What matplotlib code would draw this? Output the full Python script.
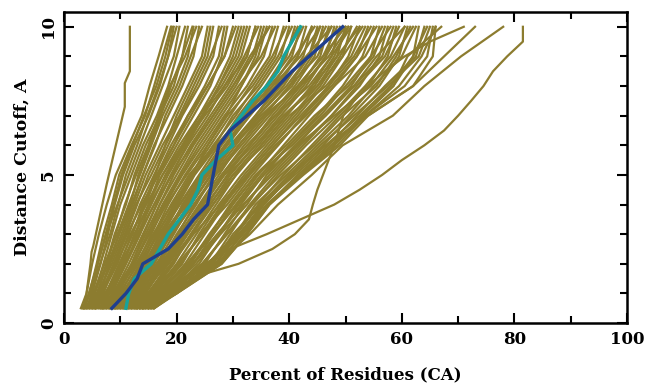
import matplotlib
matplotlib.use("Agg")
import matplotlib.pyplot as plt
from matplotlib.ticker import MultipleLocator

# cutoff levels (A) used for the bulk of the curves
levels = [0.5, 1, 2, 3, 4, 5, 6, 7, 8, 9, 10]

# percent of residues at each cutoff, one list per model (olive curves)
models = [
    [3.0, 4.0, 5.0, 6.2, 7.6, 9.2, 11.5, 13.8, 15.2, 16.8, 18.3],
    [3.5, 4.5, 5.8, 7.0, 8.5, 9.8, 12.0, 14.4, 16.0, 17.5, 19.0],
    [4.0, 5.0, 6.5, 7.8, 9.0, 10.5, 12.5, 15.0, 17.0, 18.5, 19.5],
    [3.2, 4.8, 6.0, 7.5, 9.5, 11.5, 13.5, 15.5, 17.5, 19.5, 20.5],
    [4.5, 5.5, 7.0, 8.5, 10.0, 12.0, 14.0, 16.5, 18.5, 20.0, 21.5],
    [5.0, 6.0, 7.5, 9.0, 11.0, 12.5, 14.5, 17.0, 19.5, 21.0, 22.0],
    [3.8, 5.2, 7.2, 9.5, 11.5, 13.5, 15.5, 17.5, 20.0, 22.0, 23.0],
    [5.5, 6.5, 8.0, 9.8, 12.0, 14.0, 16.0, 18.5, 21.0, 23.0, 24.0],
    [4.2, 6.0, 8.5, 10.5, 12.5, 14.5, 17.0, 19.5, 22.0, 24.5, 25.5],
    [6.0, 7.0, 9.0, 11.0, 13.0, 15.0, 17.5, 20.5, 23.0, 25.5, 26.5],
    [5.2, 6.8, 9.5, 11.5, 13.5, 16.0, 18.5, 21.0, 24.0, 26.5, 27.5],
    [6.5, 7.5, 10.0, 12.0, 14.5, 16.5, 19.0, 22.0, 25.0, 27.5, 28.5],
    [7.0, 8.0, 10.5, 12.5, 15.0, 17.0, 20.0, 23.0, 26.0, 28.0, 29.0],
    [5.8, 7.8, 10.0, 13.0, 15.5, 18.0, 21.0, 24.0, 27.0, 29.5, 31.0],
    [7.5, 8.5, 11.0, 13.5, 16.0, 18.5, 21.5, 24.5, 27.5, 30.5, 32.0],
    [6.8, 8.8, 11.5, 14.0, 16.5, 19.0, 22.0, 25.5, 28.5, 31.5, 33.0],
    [8.0, 9.0, 12.0, 14.5, 17.0, 19.5, 22.5, 26.0, 29.5, 32.5, 34.0],
    [7.2, 9.5, 12.5, 15.0, 17.5, 20.5, 23.5, 27.0, 30.5, 33.5, 35.0],
    [8.5, 10.0, 13.0, 15.5, 18.0, 21.0, 24.5, 28.0, 31.5, 34.5, 36.0],
    [9.0, 10.5, 13.5, 16.0, 18.5, 21.5, 25.0, 28.5, 32.5, 35.5, 37.0],
    [8.2, 10.2, 14.0, 16.5, 19.5, 22.5, 26.0, 29.5, 33.0, 36.5, 38.0],
    [9.5, 11.0, 14.5, 17.0, 20.0, 23.0, 26.5, 30.5, 34.0, 37.5, 39.0],
    [10.0, 11.5, 15.0, 17.5, 20.5, 24.0, 27.5, 31.0, 35.0, 38.5, 40.0],
    [9.2, 12.0, 15.5, 18.5, 21.0, 24.5, 28.0, 32.0, 36.0, 39.5, 41.0],
    [10.5, 12.5, 16.0, 19.0, 22.0, 25.0, 29.0, 33.0, 37.0, 40.5, 42.0],
    [11.0, 13.0, 16.5, 19.5, 22.5, 26.0, 29.5, 34.0, 38.0, 41.5, 43.0],
    [10.2, 13.5, 17.0, 20.0, 23.5, 26.5, 30.5, 34.5, 39.0, 42.5, 44.0],
    [11.5, 14.0, 17.5, 20.5, 24.0, 27.5, 31.0, 35.5, 40.0, 43.5, 45.0],
    [12.0, 14.5, 18.0, 21.5, 24.5, 28.0, 32.0, 36.5, 41.0, 44.5, 46.0],
    [11.2, 15.0, 18.5, 22.0, 25.5, 29.0, 33.0, 37.5, 42.0, 45.5, 47.0],
    [12.5, 15.5, 19.5, 22.5, 26.0, 29.5, 34.0, 38.5, 43.0, 46.5, 48.0],
    [13.0, 16.0, 20.0, 23.5, 27.0, 30.5, 35.0, 39.5, 44.0, 47.5, 49.0],
    [12.2, 16.5, 21.0, 24.0, 27.5, 31.5, 36.0, 40.5, 45.0, 48.5, 50.0],
    [13.5, 17.0, 21.5, 25.0, 28.5, 32.5, 37.0, 41.5, 46.0, 49.5, 51.0],
    [14.0, 17.5, 22.5, 26.0, 29.5, 33.5, 38.0, 42.5, 47.0, 50.5, 52.5],
    [13.2, 18.0, 23.0, 26.5, 30.5, 34.5, 39.0, 43.5, 48.0, 52.0, 54.0],
    [14.5, 18.5, 24.0, 27.5, 31.0, 35.5, 40.0, 45.0, 49.5, 53.0, 55.0],
    [15.0, 19.0, 25.0, 28.5, 32.0, 36.5, 41.5, 46.0, 51.0, 54.5, 56.0],
    [14.2, 19.5, 26.0, 29.5, 33.0, 37.5, 42.5, 47.5, 52.5, 56.0, 57.5],
    [15.5, 20.0, 27.0, 30.5, 34.5, 39.0, 44.0, 49.0, 54.0, 57.5, 59.0],
    [16.0, 19.5, 27.5, 31.5, 35.5, 40.5, 46.0, 51.0, 56.0, 59.5, 61.0],
    [15.2, 20.0, 28.0, 32.5, 36.5, 42.0, 48.0, 53.0, 58.5, 62.0, 63.0],
    [16.0, 20.0, 28.0, 32.5, 36.5, 42.5, 49.0, 54.0, 62.0, 65.5, 66.0],
    [6.2, 8.2, 11.0, 13.5, 15.0, 17.5, 20.5, 24.0, 28.0, 31.0, 32.5],
    [8.8, 10.8, 14.2, 17.2, 20.2, 23.2, 27.2, 31.5, 36.0, 40.0, 42.5],
    [11.8, 14.8, 19.0, 22.8, 26.5, 30.0, 34.5, 39.0, 44.5, 48.0, 50.5],
    [12.8, 16.2, 20.5, 24.5, 28.0, 32.0, 36.5, 41.0, 45.5, 49.0, 52.0],
    [10.8, 13.8, 17.8, 21.0, 24.8, 28.5, 33.5, 38.0, 42.5, 46.5, 49.5],
    [9.8, 12.2, 15.8, 18.8, 22.5, 26.2, 30.0, 35.0, 40.5, 44.0, 46.5],
    [7.8, 9.8, 13.2, 16.2, 19.0, 22.2, 26.8, 30.0, 34.5, 38.0, 40.5],
    [14.8, 18.8, 24.5, 29.0, 33.5, 38.0, 43.0, 48.5, 53.5, 58.0, 60.5],
    [13.8, 17.8, 23.5, 27.8, 32.5, 36.0, 41.0, 46.5, 51.5, 56.5, 58.5],
    [12.4, 15.6, 20.8, 24.2, 29.0, 33.0, 37.5, 43.0, 48.0, 53.5, 56.5],
    [15.6, 19.2, 26.5, 30.0, 35.0, 41.0, 47.0, 52.0, 57.0, 62.5, 64.0],
    [14.6, 18.2, 25.5, 30.5, 34.0, 39.5, 45.0, 50.5, 55.0, 60.0, 62.5],
    [9.4, 11.8, 15.2, 18.0, 21.2, 24.8, 28.5, 32.5, 36.5, 41.0, 44.5],
    [8.4, 11.2, 14.8, 17.8, 21.8, 25.5, 29.8, 34.0, 38.5, 43.0, 47.5],
    [7.4, 9.2, 12.8, 15.8, 19.2, 23.0, 27.0, 31.8, 37.0, 42.0, 45.5],
    [6.6, 8.6, 12.2, 15.2, 18.2, 21.8, 25.5, 29.0, 33.5, 37.0, 39.5],
    [5.6, 7.2, 10.8, 13.2, 16.0, 19.2, 22.8, 26.5, 30.0, 33.0, 36.5],
    [4.6, 6.4, 9.0, 11.2, 13.8, 16.8, 19.5, 22.5, 25.5, 28.5, 30.0],
    [4.8, 6.2, 8.2, 10.2, 12.2, 14.0, 16.2, 18.0, 20.5, 22.5, 24.5],
    [3.6, 4.6, 6.4, 8.2, 9.6, 11.0, 13.0, 14.8, 16.8, 18.5, 20.0],
    [10.4, 12.8, 16.8, 20.2, 23.2, 27.0, 31.5, 36.0, 41.5, 46.0, 48.5],
    [11.4, 14.2, 18.2, 21.8, 25.8, 30.0, 35.5, 40.0, 46.5, 51.0, 53.5],
    [13.4, 16.8, 22.0, 26.5, 30.0, 34.0, 39.5, 44.5, 50.5, 55.0, 57.0],
    [8.6, 10.6, 13.8, 16.5, 19.8, 22.8, 25.5, 28.8, 31.5, 34.0, 35.5],
    [7.6, 9.6, 12.4, 15.0, 17.0, 20.0, 23.0, 26.5, 30.0, 33.5, 36.5],
    [15.8, 19.8, 27.2, 31.8, 36.2, 41.5, 47.5, 53.5, 60.5, 64.5, 65.5],
    [12.6, 15.2, 19.2, 23.0, 27.8, 32.5, 37.0, 42.0, 47.0, 51.5, 54.5],
    [6.4, 7.6, 10.2, 12.8, 14.2, 16.2, 18.0, 20.0, 22.5, 25.0, 26.0],
    [5.4, 6.6, 8.8, 10.8, 12.8, 15.5, 18.0, 20.8, 23.5, 26.0, 28.0],
    [11.6, 13.2, 17.2, 20.8, 24.2, 28.0, 32.5, 37.5, 43.5, 47.5, 51.0],
    [4.4, 5.8, 7.8, 9.8, 11.8, 13.2, 15.2, 17.2, 19.0, 21.0, 22.8],
    [5.6, 7.4, 9.8, 12.2, 14.0, 16.5, 19.5, 22.0, 25.5, 28.5, 30.5],
    [7.0, 9.0, 12.5, 14.8, 17.8, 20.8, 24.0, 27.5, 31.0, 35.0, 37.5],
    [8.0, 10.4, 13.6, 16.8, 20.6, 24.2, 28.8, 33.0, 37.5, 41.5, 44.0],
    [9.0, 11.4, 15.4, 19.2, 23.0, 26.8, 31.0, 35.5, 40.0, 45.0, 47.5],
    [10.0, 12.6, 16.4, 20.4, 24.4, 28.4, 33.0, 37.0, 41.5, 46.0, 50.0],
    [11.0, 13.6, 18.6, 22.6, 26.4, 30.6, 35.0, 39.5, 44.0, 48.5, 52.5],
    [12.0, 15.4, 20.2, 24.6, 28.2, 32.8, 38.0, 42.5, 47.5, 52.0, 55.5],
    [13.0, 16.4, 21.8, 26.2, 30.8, 35.0, 40.0, 45.5, 50.0, 54.5, 58.0],
    [14.4, 18.0, 24.6, 28.8, 33.2, 38.5, 44.5, 49.5, 55.5, 59.0, 61.5],
    [15.4, 19.6, 26.8, 31.2, 35.2, 40.0, 45.5, 51.5, 57.5, 63.0, 65.0],
    [16.0, 19.8, 27.8, 32.2, 36.2, 42.2, 48.5, 53.5, 59.5, 63.5, 66.0],
    [3.4, 4.4, 6.0, 7.4, 8.8, 10.2, 12.2, 14.2, 16.4, 18.0, 19.2],
    [4.0, 5.4, 7.6, 9.2, 10.8, 12.8, 15.0, 16.8, 18.8, 21.5, 23.5],
    [6.8, 8.0, 10.6, 12.6, 15.2, 18.2, 21.2, 25.0, 29.0, 32.0, 34.5],
    [9.6, 11.6, 15.0, 18.2, 21.6, 25.6, 29.5, 34.5, 39.5, 43.5, 45.5],
    [11.2, 13.4, 17.4, 21.4, 25.2, 29.2, 34.0, 39.0, 45.0, 49.5, 53.0],
    [13.6, 17.2, 22.8, 27.2, 31.8, 37.0, 42.0, 47.5, 52.0, 57.0, 59.5],
    [12.8, 16.6, 22.2, 25.8, 29.8, 34.2, 40.5, 46.0, 51.5, 55.5, 60.5],
    [15.0, 19.4, 26.2, 30.6, 34.8, 40.0, 46.5, 52.5, 58.0, 62.0, 64.5],
    [10.6, 12.4, 16.0, 19.0, 22.2, 25.4, 28.8, 32.2, 35.8, 39.2, 41.5],
    [8.2, 9.4, 12.0, 14.2, 16.4, 19.0, 21.8, 24.8, 27.5, 30.0, 31.5],
    [5.0, 6.8, 9.2, 11.8, 14.6, 17.5, 21.0, 24.5, 28.5, 32.5, 34.0],
    [9.2, 11.0, 14.4, 17.6, 21.4, 25.2, 30.0, 35.5, 42.0, 47.0, 50.5],
    [14.2, 17.4, 23.0, 27.6, 31.4, 35.4, 41.5, 48.0, 54.5, 58.5, 62.0],
    [14.0, 18.5, 27.0, 33.0, 38.0, 44.0, 49.5, 58.4, 64.0, 70.5, 78.0],
    [13.5, 17.5, 25.5, 31.0, 35.5, 40.5, 46.5, 54.0, 62.0, 67.5, 73.0],
    [14.0, 18.0, 26.0, 31.5, 36.0, 42.0, 47.5, 53.0, 58.5, 61.0, 67.0],
]

# outlier models drawn on their own cutoff grids
lone_y = [0.5, 1, 2, 2.4, 2.6, 4.7, 7.3, 8.1, 8.5, 10]
lone_x = [3.5, 4.0, 4.7, 4.9, 5.2, 7.6, 10.8, 10.8, 11.7, 11.7]

fine = [0.5, 1, 1.5, 2, 2.5, 3, 3.5, 4, 4.5, 5, 5.5, 6, 6.5, 7, 7.5, 8, 8.5, 9, 9.5, 10]
far_x = [13, 17, 21, 25, 29.5, 36, 42, 48, 52.5, 56.5, 60, 64, 67.5, 70, 72.3, 74.5, 76.2, 78.7, 81.5, 81.5]
steep_x = [15, 18, 22, 31, 37, 41, 43.5, 44.2, 45, 46, 47, 48, 48.8, 49.6, 51.5, 54, 57, 60.5, 65, 71]

# highlighted models
teal_x = [11, 11.5, 12.5, 15.5, 17, 18.5, 20.5, 22.5, 23.8, 24.5, 27, 30, 29.5, 31.5, 33.5, 36, 38, 39, 40.5, 42]
blue_x = [8.5, 11, 13, 14, 18.5, 21, 23, 25.5, 26, 26.5, 27, 27.5, 29.5, 32.5, 35.5, 38, 40.5, 43.5, 46.5, 49.5]

olive = "#8c7c2f"

fig = plt.figure(figsize=(6.45, 3.86), dpi=100)
ax = fig.add_axes([0.0992, 0.163, 0.873, 0.806])

for m in models:
    ax.plot(m, levels, color=olive, lw=1.6)
ax.plot(lone_x, lone_y, color=olive, lw=1.6)
ax.plot(far_x, fine, color=olive, lw=1.6)
ax.plot(steep_x, fine, color=olive, lw=1.6)

ax.plot(teal_x, fine, color="#17a39b", lw=2.4)
ax.plot(blue_x, fine, color="#1f3f8f", lw=2.4)

ax.set_xlim(0, 100)
ax.set_ylim(0, 10.5)
ax.xaxis.set_major_locator(MultipleLocator(20))
ax.xaxis.set_minor_locator(MultipleLocator(10))
ax.yaxis.set_major_locator(MultipleLocator(5))
ax.yaxis.set_minor_locator(MultipleLocator(1))
ax.tick_params(which="both", direction="in", top=True, right=True, width=1.5)
ax.tick_params(which="major", length=7)
ax.tick_params(which="minor", length=5)
for s in ax.spines.values():
    s.set_linewidth(1.8)

fnt = dict(family="DejaVu Serif", weight="bold")
for lab in ax.get_xticklabels():
    lab.set_fontsize(12)
    lab.set_fontfamily("DejaVu Serif")
    lab.set_fontweight("bold")
for lab in ax.get_yticklabels():
    lab.set_fontsize(12)
    lab.set_fontfamily("DejaVu Serif")
    lab.set_fontweight("bold")
    lab.set_rotation(90)
    lab.set_va("center")
ax.tick_params(axis="x", pad=6)
ax.tick_params(axis="y", pad=5)

ax.set_xlabel("Percent of Residues (CA)", fontsize=12, labelpad=13, **fnt)
ax.set_ylabel("Distance Cutoff, A", fontsize=12.5, labelpad=7, **fnt)

fig.savefig("out.png", dpi=100)
